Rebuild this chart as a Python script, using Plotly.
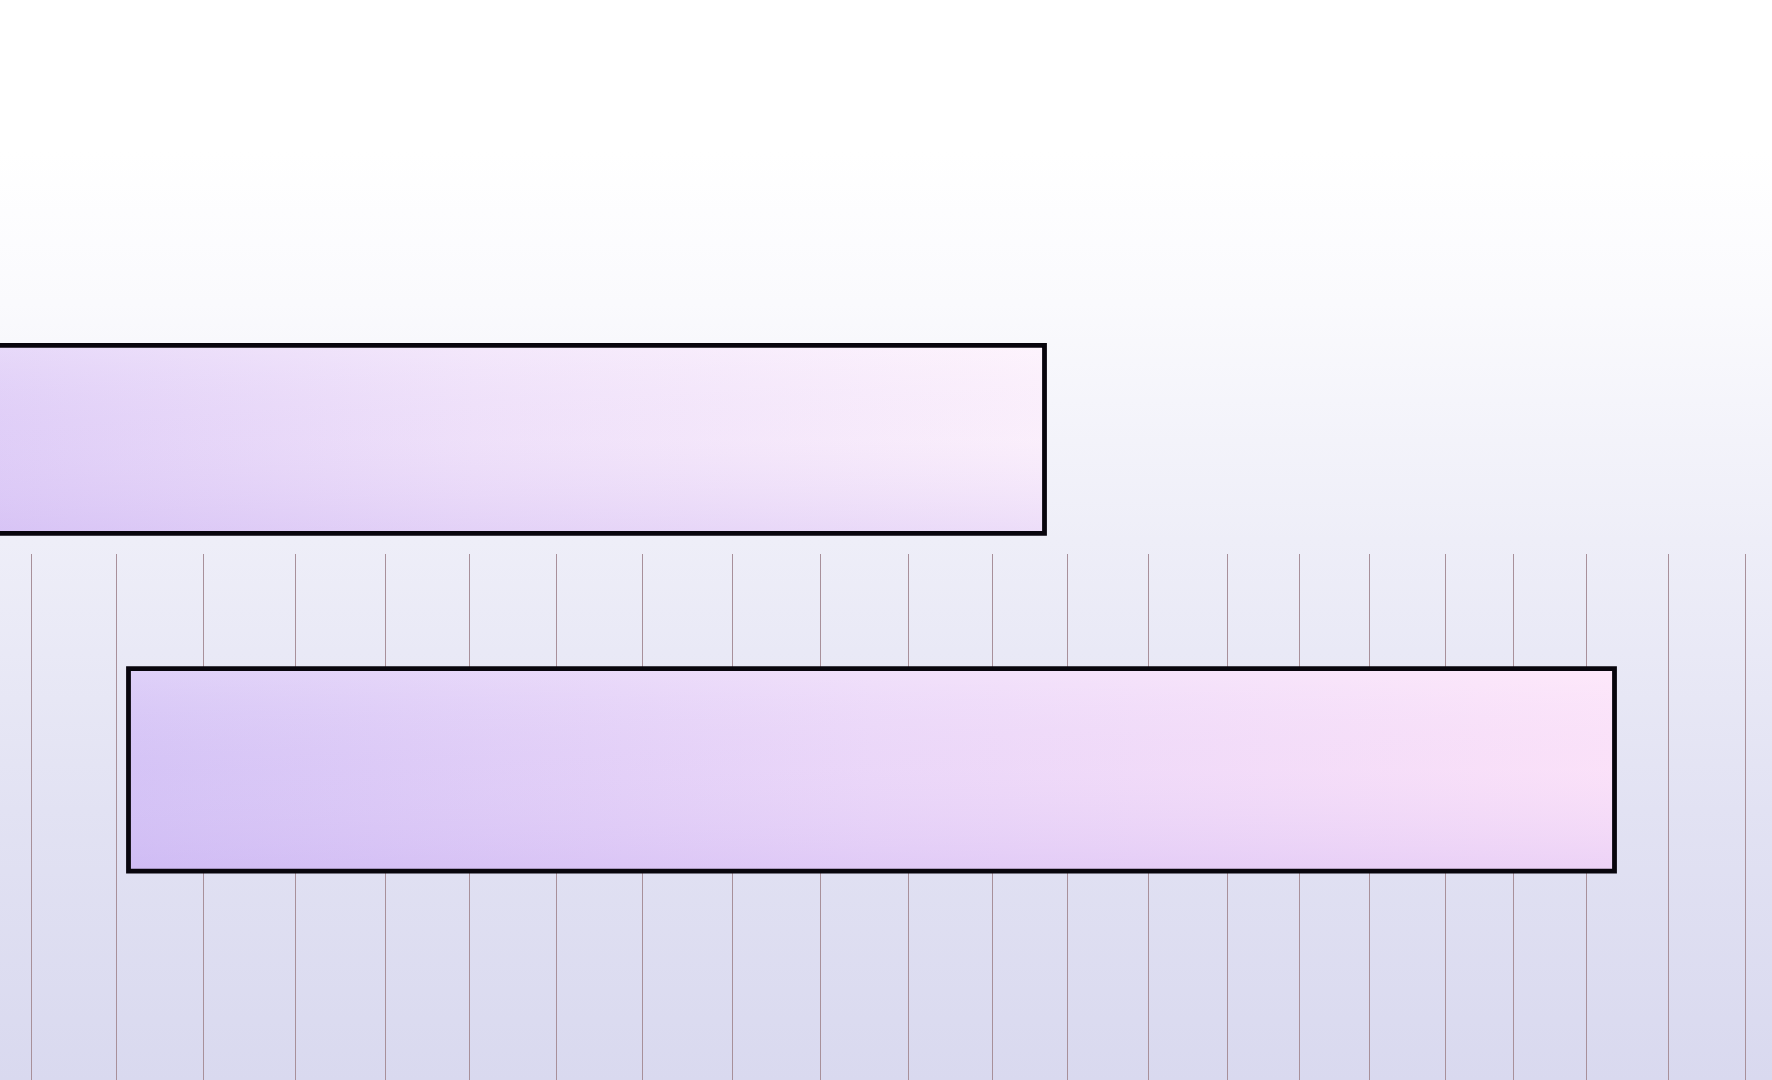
import plotly.graph_objects as go

# ---- data ----
tasks = ["Upper task", "Lower task"]
task_start = [-10.0, 12.85]
task_end = [104.45, 161.45]

grid_ticks = [3.14, 11.63, 20.32, 29.54, 38.54, 46.96, 55.68, 64.24, 73.24,
              82.04, 90.84, 99.26, 106.76, 114.87, 122.75, 129.94, 136.95,
              144.52, 151.34, 158.65, 166.80, 174.53]

x_range = [0, 177.2]
bar_half = 0.4

# ---- styles ----
bar_scales = [
    [[0, "#dccaf7"], [0.5, "#f0e2fa"], [1, "#fdf2fc"]],
    [[0, "#d4c3f6"], [0.5, "#ecd8f9"], [1, "#fde3f9"]],
]
shade_scale = [[0, "rgba(196,170,240,0.30)"], [0.5, "rgba(220,200,245,0.08)"],
               [1, "rgba(255,250,255,0.25)"]]
bg_scale = [[0, "#d9d9ef"], [0.25, "#e2e2f3"], [0.5, "#eeeef8"],
            [0.72, "#fafafd"], [0.86, "#ffffff"], [1, "#ffffff"]]

fig = go.Figure()

# background gradient on a full-paper helper subplot
fig.add_trace(go.Scatter(
    x=[0, 1, 1, 0, 0], y=[0, 0, 1, 1, 0], mode="lines", fill="toself",
    line=dict(width=0), fillgradient=dict(type="vertical", colorscale=bg_scale),
    hoverinfo="skip", showlegend=False, xaxis="x", yaxis="y"))

axes_for = {0: ("x3", "y3"), 1: ("x2", "y2")}
for i, name in enumerate(tasks):
    xa, ya = axes_for[i]
    s, e = task_start[i], task_end[i]
    xs = [s, s, e, e, s, s]
    ys = [0, -bar_half, -bar_half, bar_half, bar_half, 0]
    fig.add_trace(go.Scatter(
        x=xs, y=ys, mode="lines", fill="toself", name=name,
        line=dict(width=0),
        fillgradient=dict(type="horizontal", colorscale=bar_scales[i]),
        hoverinfo="skip", showlegend=False, xaxis=xa, yaxis=ya))
    fig.add_trace(go.Scatter(
        x=xs, y=ys, mode="lines", fill="toself", name=name,
        line=dict(color="#08050d", width=4.8),
        fillgradient=dict(type="vertical", colorscale=shade_scale),
        showlegend=False, xaxis=xa, yaxis=ya))

split = (1080 - 554) / 1080
# keep bar pixel placement after the split shift
y2_top = 0.861 - 2 / 253

fig.update_layout(
    width=1772, height=1080,
    margin=dict(l=0, r=0, t=0, b=0),
    paper_bgcolor="#ffffff", plot_bgcolor="rgba(0,0,0,0)",
    showlegend=False,
    xaxis=dict(domain=[0, 1], range=[0, 1], visible=False, fixedrange=True),
    yaxis=dict(domain=[0, 1], range=[0, 1], visible=False, fixedrange=True),
    xaxis2=dict(domain=[0, 1], range=x_range, anchor="y2",
                tickvals=grid_ticks, showticklabels=False, ticks="",
                showgrid=True, gridcolor="#a8909a", gridwidth=1,
                zeroline=False, showline=False),
    yaxis2=dict(domain=[0, split], range=[-1.226, y2_top], anchor="x2",
                visible=False, showgrid=False, zeroline=False),
    xaxis3=dict(domain=[0, 1], range=x_range, anchor="y3", matches="x2",
                visible=False, showgrid=False, zeroline=False),
    yaxis3=dict(domain=[split, 1], range=[-0.479 - 2 / 235, 1.870], anchor="x3",
                visible=False, showgrid=False, zeroline=False),
)

fig.write_html("out.html",
               config={"displayModeBar": False},
               post_script="document.body.style.margin='0';"
                           "document.body.style.overflow='hidden';")
